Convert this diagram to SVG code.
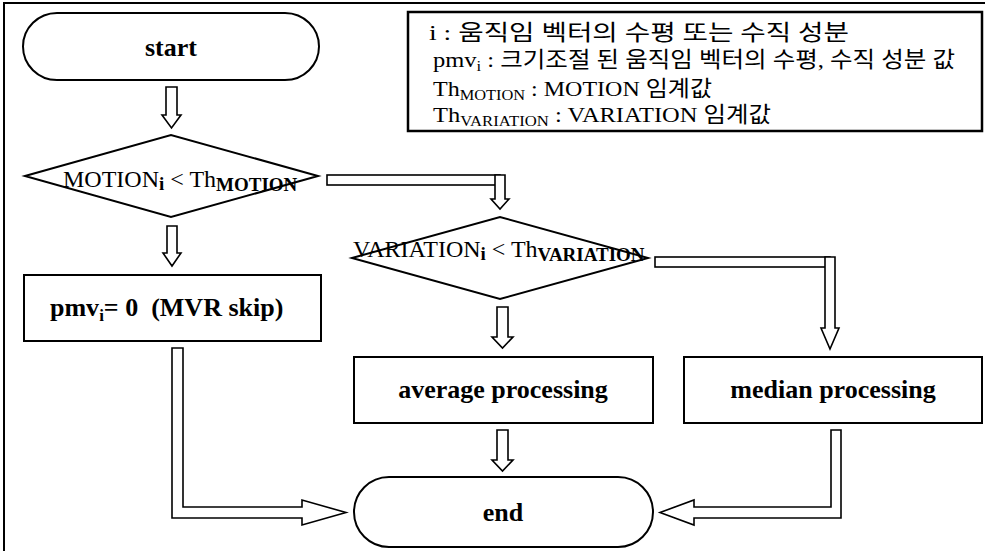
<svg xmlns="http://www.w3.org/2000/svg" width="985" height="551" viewBox="0 0 985 551">
<style>
.frame{fill:none;stroke:#000;stroke-width:2}
.node{fill:#fff;stroke:#000;stroke-width:2}
.conn{fill:#fff;stroke:#000;stroke-width:1.6;stroke-linejoin:miter}
.lbl{font-family:"Liberation Serif","Noto Sans CJK KR",serif;font-weight:bold;font-size:26px;fill:#000;text-anchor:middle}
.dtxt{font-family:"Liberation Serif",serif;font-size:24px;fill:#000}
.dsub{font-weight:bold;font-size:19px}
.leg{font-family:"Liberation Serif","Noto Sans CJK KR",sans-serif;font-size:22px;fill:#000}
.lsub{font-size:15px}
</style>
<rect width="985" height="551" fill="#fff"/>
<path class="frame" d="M4,551 V3 H985"/>

<g id="legend">
<rect x="408" y="12" width="574" height="119" fill="#fff" stroke="#000" stroke-width="2.5"/>
<text class="leg" x="429" y="40" textLength="420" lengthAdjust="spacingAndGlyphs">i : 움직임 벡터의 수평 또는 수직 성분</text>
<text class="leg" x="433" y="67" textLength="522" lengthAdjust="spacingAndGlyphs">pmv<tspan class="lsub" dy="4">i</tspan><tspan dy="-4"> : 크기조절 된 움직임 벡터의 수평, 수직 성분 값</tspan></text>
<text class="leg" x="433" y="96" textLength="279" lengthAdjust="spacingAndGlyphs">Th<tspan class="lsub" dy="4">MOTION</tspan><tspan dy="-4"> : MOTION 임계값</tspan></text>
<text class="leg" x="433" y="122" textLength="338" lengthAdjust="spacingAndGlyphs">Th<tspan class="lsub" dy="4">VARIATION</tspan><tspan dy="-4"> : VARIATION 임계값</tspan></text>
</g>

<g id="connectors">
<polygon class="conn" points="166,87 177,87 177,115 181,115 171.5,128 162,115 166,115"/>
<polygon class="conn" points="167,226 177,226 177,253 181,253 172,266 163,253 167,253"/>
<rect class="conn" x="327" y="175" width="173" height="10"/>
<polygon class="conn" points="495,175 505,175 505,199 509,199 500,209 491,199 495,199"/>
<rect class="conn" x="655" y="257" width="175" height="10"/>
<polygon class="conn" points="825,257 835,257 835,328 839,328 830,349 821,328 825,328"/>
<polygon class="conn" points="497,307 508,307 508,337 513,337 502.5,348 492,337 497,337"/>
<polygon class="conn" points="497,430 508,430 508,460 513,460 502.5,471 492,460 497,460"/>
<polygon class="conn" points="172,348 183,348 183,507 302,507 302,500 346,512.5 302,525 302,518 172,518"/>
<polygon class="conn" points="841,430 831,430 831,507 694,507 694,500 660,512.5 694,525 694,518 841,518"/>
</g>

<g id="start">
<rect class="node" x="23" y="13" width="296" height="67" rx="34" ry="33.5"/>
<text class="lbl" x="171" y="56" font-size="28">start</text>
</g>

<g id="decision-motion">
<polygon class="node" points="25,176 171,135 318,176 171,217" stroke-width="1.6"/>
<text class="dtxt" x="63" y="187">MOTION<tspan class="dsub" dy="3">i</tspan><tspan dy="-3"> &lt; Th</tspan><tspan class="dsub" dy="4">MOTION</tspan></text>
</g>

<g id="decision-variation">
<polygon class="node" points="352,258 500,217 648,258 500,299" stroke-width="1.6"/>
<text class="dtxt" x="353" y="257" font-size="23">VARIATION<tspan class="dsub" font-size="18" dy="3">i</tspan><tspan dy="-3"> &lt; Th</tspan><tspan class="dsub" font-size="18" dy="4">VARIATION</tspan></text>
</g>

<g id="mvr-skip">
<rect class="node" x="24" y="275" width="297" height="66"/>
<text class="lbl" x="50" y="316" style="text-anchor:start" xml:space="preserve">pmv<tspan font-size="17" dy="5">i</tspan><tspan dy="-5">= 0  (MVR skip)</tspan></text>
</g>

<g id="average">
<rect class="node" x="354" y="357" width="299" height="66"/>
<text class="lbl" x="503" y="398">average processing</text>
</g>

<g id="median">
<rect class="node" x="684" y="357" width="298" height="66"/>
<text class="lbl" x="833" y="398">median processing</text>
</g>

<g id="end">
<rect class="node" x="354" y="477" width="299" height="70" rx="35" ry="35"/>
<text class="lbl" x="503" y="521" font-size="28">end</text>
</g>
</svg>
